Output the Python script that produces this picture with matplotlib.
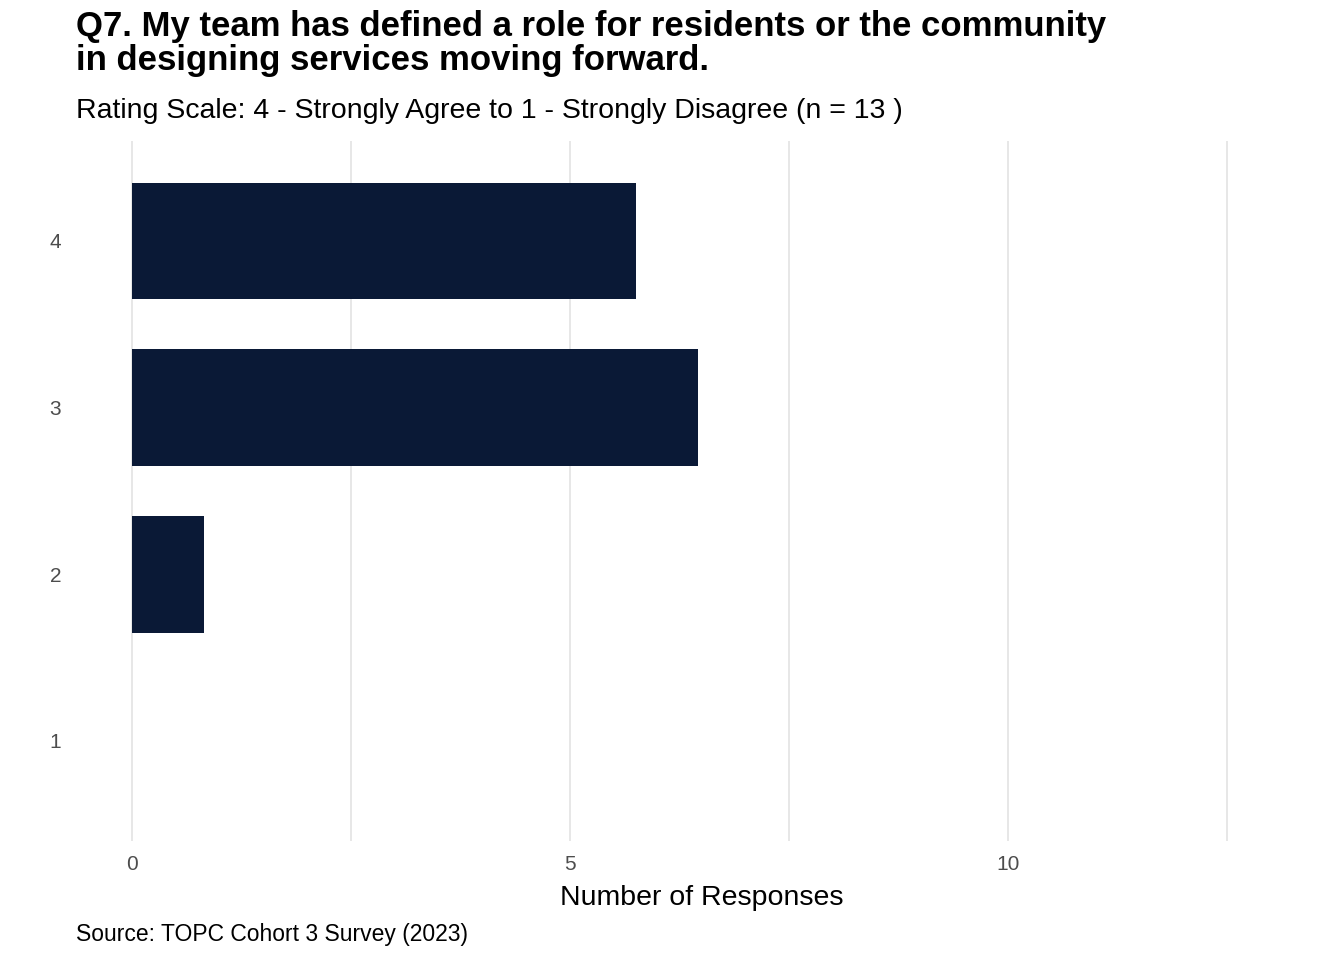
import matplotlib.pyplot as plt

# ─── Data ────────────────────────────────────────────────────────────────
ratings = [1, 2, 3, 4]
responses = [0, 0.82, 6.46, 5.75]
x_ticks = [0, 5, 10]
x_minor = [2.5, 7.5, 12.5]

plt.rcParams['font.family'] = ['Liberation Sans', 'DejaVu Sans']

W, H = 1344, 960
fig = plt.figure(figsize=(W / 100, H / 100), dpi=100, facecolor='white')
ax = fig.add_axes([75 / W, (H - 841) / H, (1328 - 75) / W, (841 - 141) / H])

ax.barh(ratings, responses, height=0.7, color='#0a1936', zorder=2)

ax.set_xlim(-0.65, 13.65)
ax.set_ylim(0.4, 4.6)
ax.set_xticks(x_ticks)
ax.set_xticks(x_minor, minor=True)
ax.set_yticks(ratings)
ax.set_yticklabels([str(r) for r in ratings])
ax.grid(axis='x', which='both', color='#e5e5e5', linewidth=1.3, zorder=0)
ax.grid(axis='y', visible=False)
for s in ax.spines.values():
    s.set_visible(False)
ax.tick_params(which='both', length=0, labelsize=15, colors='#4d4d4d', pad=10)
ax.set_xlabel('Number of Responses', fontsize=20.5, color='black', labelpad=8)

fig.text(76 / W, 1 - 10 / H, 'Q7. My team has defined a role for residents or the community\n'
         'in designing services moving forward.', fontsize=25, fontweight='bold',
         va='top', ha='left', linespacing=1.05)
fig.text(76 / W, 1 - 111 / H, 'Rating Scale: 4 - Strongly Agree to 1 - Strongly Disagree (n = 13 )',
         fontsize=20.5, va='center', ha='left')
fig.text(76 / W, 1 - 934 / H, 'Source: TOPC Cohort 3 Survey (2023)', fontsize=16.5,
         va='center', ha='left')

fig.savefig('out.png', dpi=100, facecolor='white')
